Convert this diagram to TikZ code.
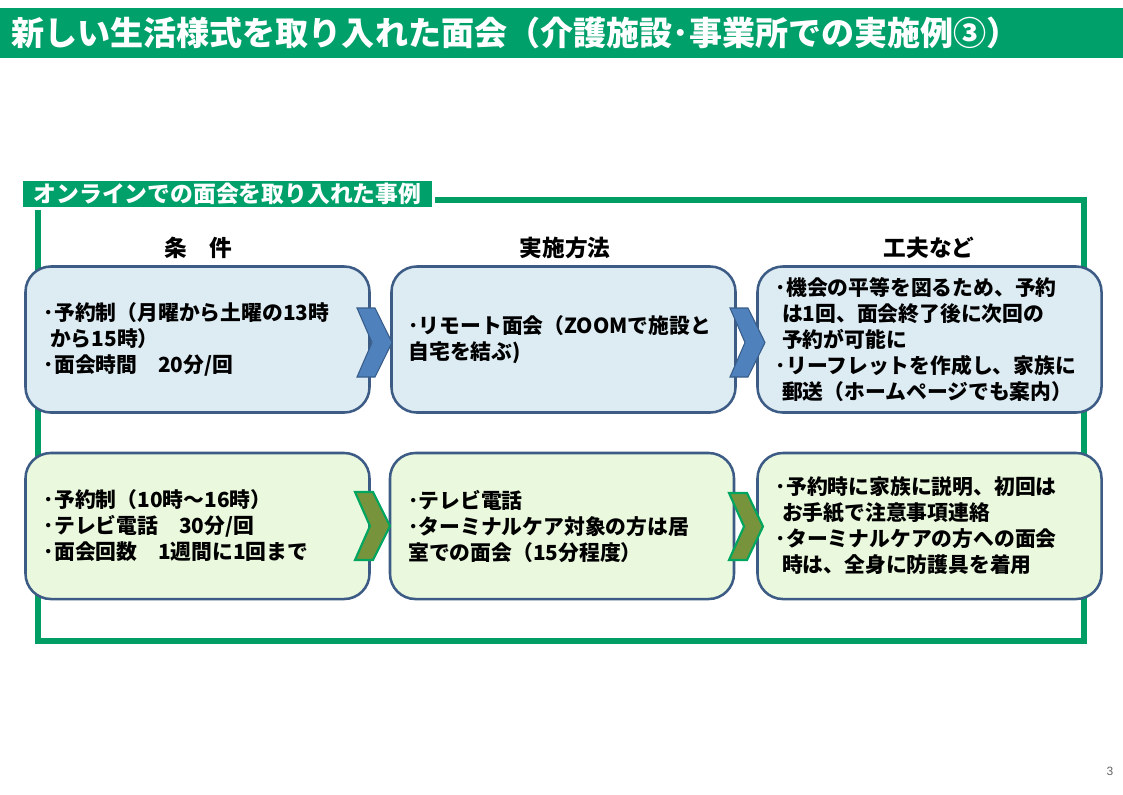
\documentclass[tikz,border=0pt]{standalone}
\usepackage{fontspec}
\newfontfamily\jp{Noto Sans CJK JP}
\setmainfont{Liberation Sans}
\definecolor{tgreen}{RGB}{0,160,106}
\definecolor{fgreen}{RGB}{0,158,100}
\definecolor{bborder}{RGB}{60,92,134}
\definecolor{bluefill}{RGB}{221,235,243}
\definecolor{greenfill}{RGB}{234,248,222}
\definecolor{chevblue}{RGB}{79,129,189}
\definecolor{chevblueb}{RGB}{56,93,138}
\definecolor{chevolive}{RGB}{119,147,60}
\definecolor{chevgreenb}{RGB}{0,166,95}
\tikzset{
  box/.style={draw=bborder, line width=1.9pt, rounded corners=19pt,
    minimum width=258pt, minimum height=109.5pt, inner sep=0pt},
  bluebox/.style={box, fill=bluefill},
  greenbox/.style={box, fill=greenfill},
  boxtext/.style={anchor=west, align=left, inner sep=0pt,
    font=\jp\bfseries\fontsize{15.6}{19.5}\selectfont},
  header/.style={font=\jp\bfseries\fontsize{17}{20}\selectfont, inner sep=0pt},
  chevb/.style={fill=chevblue, draw=chevblueb, line width=0.8pt, line join=miter},
  chevg/.style={fill=chevolive, draw=chevgreenb, line width=1.6pt, line join=miter},
}
\begin{document}
\begin{tikzpicture}[x=0.75pt,y=-0.75pt]
\useasboundingbox (0,0) rectangle (1123,794);
\fill[white] (0,0) rectangle (1123,794);
% title bar
\fill[tgreen] (0,8) rectangle (1123,58);
\node[anchor=west, inner sep=0pt, text=white, font=\jp\bfseries\fontsize{24.8}{28}\selectfont] (title) at (11,33) {新しい生活様式を取り入れた面会（介護施設･事業所での実施例③）};
% frame
\draw[fgreen, line width=4.6pt] (38,200) rectangle (1084,641);
\node[fill=tgreen, draw=white, line width=2pt, minimum width=309pt, minimum height=22pt, inner sep=0pt,
  text=white, font=\jp\bfseries\fontsize{17.1}{20}\selectfont] (label) at (227.5,194) {オンラインでの面会を取り入れた事例};
% headers
\node[header] (h1) at (198.5,248) {条　件};
\node[header] (h2) at (565,248) {実施方法};
\node[header] (h3) at (929,248) {工夫など};
% boxes
\node[bluebox] (a1) at (197.5,339.5) {};
\node[bluebox] (b1) at (563.5,339.5) {};
\node[bluebox] (c1) at (929.5,339.5) {};
\node[greenbox] (a2) at (197.5,526) {};
\node[greenbox] (b2) at (562,526) {};
\node[greenbox] (c2) at (929.5,526) {};
% chevrons
\draw[chevb] (357,308) -- (375,308) -- (392,342.5) -- (375,377) -- (357,377) -- (372,342.5) -- cycle;
\draw[chevb] (730,308) -- (748,308) -- (765,342.5) -- (748,377) -- (730,377) -- (745,342.5) -- cycle;
\draw[chevg] (355,492) -- (373,492) -- (390,526) -- (373,560) -- (355,560) -- (370,526) -- cycle;
\draw[chevg] (729,493) -- (747,493) -- (763,526.5) -- (747,560) -- (729,560) -- (744,526.5) -- cycle;
% texts
\node[boxtext] (ta1) at ([xshift=14.5pt]a1.west) {･予約制（月曜から土曜の13時\\\hspace{0.3em}から15時）\\･面会時間　20分/回};
\node[boxtext] (tb1) at ([xshift=13.5pt]b1.west) {･リモート面会（ZOOMで施設と\\自宅を結ぶ)};
\node[boxtext] (tc1) at ([xshift=14.5pt]c1.west) {･機会の平等を図るため、予約\\\hspace{0.3em}は1回、面会終了後に次回の\\\hspace{0.3em}予約が可能に\\･リーフレットを作成し、家族に\\\hspace{0.3em}郵送（ホームページでも案内）};
\node[boxtext] (ta2) at ([xshift=14.5pt]a2.west) {･予約制（10時～16時）\\･テレビ電話　30分/回\\･面会回数　1週間に1回まで};
\node[boxtext] (tb2) at ([xshift=14.5pt]b2.west) {･テレビ電話\\･ターミナルケア対象の方は居\\室での面会（15分程度）};
\node[boxtext] (tc2) at ([xshift=14.5pt]c2.west) {･予約時に家族に説明、初回は\\\hspace{0.3em}お手紙で注意事項連絡\\･ターミナルケアの方への面会\\\hspace{0.3em}時は、全身に防護具を着用};
% page number
\node[text=black!60, font=\fontsize{9}{10}\selectfont, inner sep=0pt] (pg) at (1110,771) {3};
\end{tikzpicture}
\end{document}
